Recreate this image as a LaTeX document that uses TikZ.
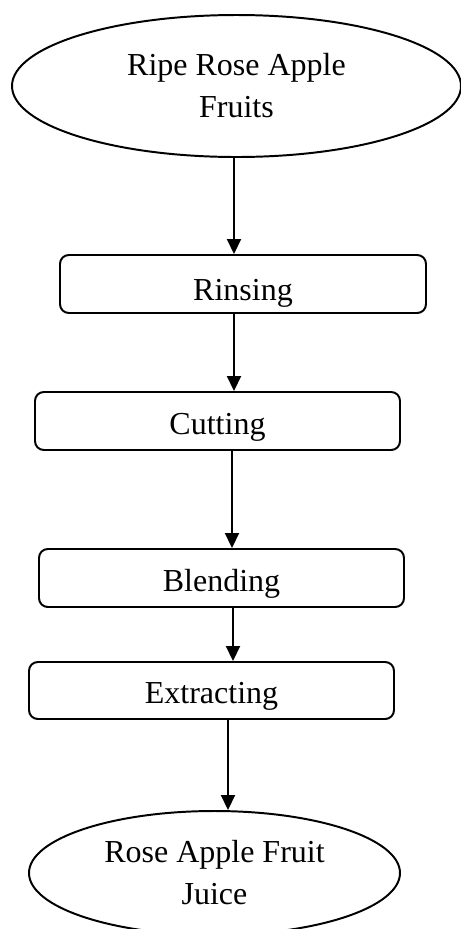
\documentclass[tikz,border=0pt]{standalone}
\usepackage{fontspec}
\setmainfont{Liberation Serif}
\usepackage{tikz}
\usetikzlibrary{shapes}
\usetikzlibrary{shapes.geometric}
\usetikzlibrary{arrows.meta}
\pgfdeclarelayer{edgelayer}
\pgfdeclarelayer{nodelayer}
\pgfsetlayers{edgelayer,nodelayer,main}
\tikzstyle{none}=[inner sep=0pt]
\tikzstyle{flowtext}=[font=\fontsize{22.76}{29.9}\selectfont, align=center]
\tikzstyle{terminal}=[style=none, flowtext, ellipse, draw, fill=white, line width=1.4pt]
\tikzstyle{stepbox}=[style=none, flowtext, rectangle, rounded corners=0.22cm, draw, fill=white, line width=1.4pt, minimum width=9.125cm, minimum height=1.45cm, text height=0.65cm, text depth=0pt]

\begin{document}
\begin{tikzpicture}[>={Triangle[length=0.375cm,width=0.35cm]}]
	\useasboundingbox (0, 0) rectangle (11.525, -23.225);
	\begin{pgfonlayer}{nodelayer}
		\node [style=terminal, minimum width=11.225cm, minimum height=3.55cm] (0) at (5.9125, -2.15) {Ripe Rose Apple\\Fruits};
		\node [style=stepbox, minimum width=9.15cm, text height=0.8cm] (1) at (6.075, -7.1) {Rinsing};
		\node [style=stepbox] (2) at (5.4375, -10.525) {Cutting};
		\node [style=stepbox] (3) at (5.5375, -14.45) {Blending};
		\node [style=stepbox, minimum height=1.425cm] (4) at (5.2875, -17.2625) {Extracting};
		\node [style=terminal, minimum width=9.275cm, minimum height=3.1cm] (5) at (5.3625, -21.825) {Rose Apple Fruit\\Juice};
	\end{pgfonlayer}
	\begin{pgfonlayer}{edgelayer}
		\draw [->, line width=1.4pt](0.south -| 5.85,0) to (1.north -| 5.85,0);
		\draw [->, line width=1.4pt](1.south -| 5.85,0) to (2.north -| 5.85,0);
		\draw [->, line width=1.4pt](2.south -| 5.8,0) to (3.north -| 5.8,0);
		\draw [->, line width=1.4pt](3.south -| 5.825,0) to (4.north -| 5.825,0);
		\draw [->, line width=1.4pt](4.south -| 5.7,0) to (5.north -| 5.7,0);
	\end{pgfonlayer}
\end{tikzpicture}
\end{document}
